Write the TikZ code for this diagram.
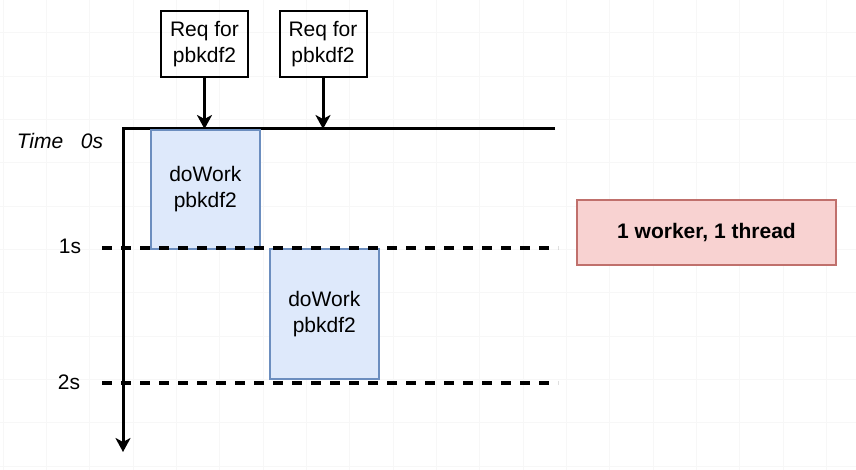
\documentclass[tikz,border=0pt]{standalone}
\usepackage{fontspec}
\setmainfont{Liberation Sans}
\usetikzlibrary{arrows.meta}
\definecolor{workfill}{HTML}{DEE9FB}
\definecolor{workline}{HTML}{6C8EBF}
\definecolor{notefill}{HTML}{F8D2D1}
\definecolor{noteline}{HTML}{C0706C}

\begin{document}
\begin{tikzpicture}[x=1pt, y=-1pt, >={Stealth[length=14pt, width=15pt, inset=4pt]},
    txt/.style={font=\fontsize{21}{26}\selectfont},
    reqbox/.style={txt, draw, line width=2pt, minimum width=87pt, minimum height=66pt, align=center, inner sep=0pt},
    workbox/.style={txt, draw=workline, fill=workfill, line width=1.6pt, minimum width=109pt, align=center, anchor=north west, inner sep=0pt},
    notebox/.style={txt, draw=noteline, fill=notefill, line width=1.4pt, minimum width=259pt, minimum height=65pt, inner sep=0pt},
    axis/.style={line width=3pt},
    tick/.style={line width=3.2pt, dash pattern=on 10pt off 9pt},
    gridline/.style={black!3, line width=0.8pt}]
    \useasboundingbox (0,0) rectangle (856,470);
    \fill[white] (0,0) rectangle (856,470);
    % faint background grid
    \foreach \k in {0,...,19}
        \draw[gridline] (3+43.33*\k,0) -- ++(0,470);
    \foreach \k in {0,...,10}
        \draw[gridline] (0,32.7+43.33*\k) -- ++(856,0);

    % time axis
    \coordinate (origin) at (123,129);
    \coordinate (tend) at (555,129);
    \coordinate (axisend) at (123,452);
    \draw[axis, ->] (tend) -- (origin) -- (axisend);
    \node[txt, font=\fontsize{21}{26}\selectfont\itshape] (timelbl) at (40,141) {Time};
    \node[txt, font=\fontsize{21}{26}\selectfont\itshape] (zero) at (92,141) {0s};

    % requests
    \node[reqbox] (req1) at (204.5,44) {Req for\\pbkdf2};
    \node[reqbox] (req2) at (323,44) {Req for\\pbkdf2};

    % work on the thread
    \node[workbox, minimum height=119pt] (work1) at (150,129) {doWork\\pbkdf2};
    \node[workbox, minimum height=130pt] (work2) at (269,248) {doWork\\pbkdf2};

    % seconds
    \coordinate (onel) at (102,248);
    \coordinate (oner) at (558,248);
    \coordinate (twol) at (102,383);
    \coordinate (twor) at (558,383);
    \draw[tick] (onel) -- (oner);
    \draw[tick] (twol) -- (twor);
    \node[txt] (one) at (70,246) {1s};
    \node[txt] (two) at (69,382) {2s};

    \draw[axis, ->] (req1.south) -- (req1.south |- origin);
    \draw[axis, ->] (req2.south) -- (req2.south |- origin);

    \node[notebox] (note) at (706.5,232.5) {\textbf{1 worker, 1 thread}};
\end{tikzpicture}
\end{document}
